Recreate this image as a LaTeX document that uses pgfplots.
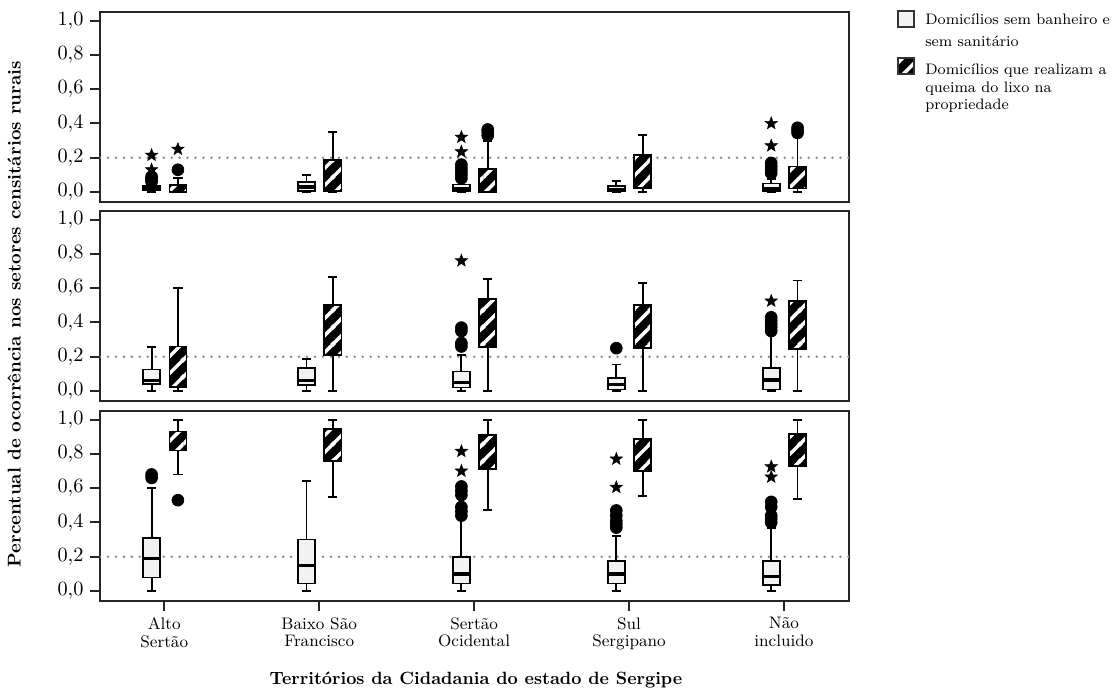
\documentclass[border=0pt]{standalone}
\usepackage{pgfplots}
\pgfplotsset{compat=1.18}
\usepgfplotslibrary{statistics}
\usetikzlibrary{patterns}

\pgfdeclarepatternformonly{wstripes}{\pgfqpoint{0pt}{0pt}}{\pgfqpoint{9pt}{9pt}}{\pgfqpoint{9pt}{9pt}}{%
  \pgfsetlinewidth{1.9pt}%
  \pgfpathmoveto{\pgfqpoint{-1pt}{-1pt}}\pgfpathlineto{\pgfqpoint{10pt}{10pt}}%
  \pgfpathmoveto{\pgfqpoint{-1pt}{8pt}}\pgfpathlineto{\pgfqpoint{1pt}{10pt}}%
  \pgfpathmoveto{\pgfqpoint{8pt}{-1pt}}\pgfpathlineto{\pgfqpoint{10pt}{1pt}}%
  \pgfusepath{stroke}}

\pgfdeclareplotmark{fstar}{%
  \pgfpathmoveto{\pgfpointpolar{90}{\pgfplotmarksize}}%
  \pgfpathlineto{\pgfpointpolar{126}{0.42\pgfplotmarksize}}%
  \pgfpathlineto{\pgfpointpolar{162}{\pgfplotmarksize}}%
  \pgfpathlineto{\pgfpointpolar{198}{0.42\pgfplotmarksize}}%
  \pgfpathlineto{\pgfpointpolar{234}{\pgfplotmarksize}}%
  \pgfpathlineto{\pgfpointpolar{270}{0.42\pgfplotmarksize}}%
  \pgfpathlineto{\pgfpointpolar{306}{\pgfplotmarksize}}%
  \pgfpathlineto{\pgfpointpolar{342}{0.42\pgfplotmarksize}}%
  \pgfpathlineto{\pgfpointpolar{18}{\pgfplotmarksize}}%
  \pgfpathlineto{\pgfpointpolar{54}{0.42\pgfplotmarksize}}%
  \pgfpathclose
  \pgfusepathqfillstroke}

\pgfplotsset{
  panel/.style={
    width=404.46pt, height=102.6pt, scale only axis,
    xmin=0.585, xmax=5.42, ymin=-0.058, ymax=1.05,
    ytick={0,0.2,0.4,0.6,0.8,1}, ytick pos=left,
    tick align=outside, major tick length=5.4pt,
    axis line style={line width=1.2pt, black!85},
    tick style={line width=1.1pt, black!85},
    y tick label style={/pgf/number format/.cd, fixed, fixed zerofill, precision=1, use comma, /tikz/.cd, font=\fontsize{10.5}{12}\selectfont},
    xtick=\empty,
  },
  boxW/.style={black, line width=0.9pt, boxplot/draw direction=y, boxplot/box extend=0.11, boxplot/whisker extend=0.06,
    boxplot/every box/.style={fill=black!5, line width=0.9pt},
    boxplot/every whisker/.style={line width=1pt},
    boxplot/every median/.style={line width=1.8pt}},
  boxH/.style={black, line width=0.9pt, boxplot/draw direction=y, boxplot/box extend=0.11, boxplot/whisker extend=0.06,
    boxplot/every box/.style={fill=black, postaction={pattern=wstripes, pattern color=white}, postaction={draw=black, line width=0.9pt}},
    boxplot/every whisker/.style={line width=1pt},
    boxplot/every median/.style={opacity=0}},
  circ/.style={only marks, mark=*, mark size=3.2pt, black},
  ostar/.style={only marks, mark=fstar, mark size=3.5pt, black, mark options={line width=0.3pt}},
  refline/.style={black!45, line width=1.5pt, line cap=round, dash pattern=on 0pt off 4.3pt},
}

\newcommand{\BW}[6]{\addplot[boxW, boxplot prepared={draw position=#1, lower whisker=#2, lower quartile=#3, median=#4, upper quartile=#5, upper whisker=#6}] coordinates {};}
\newcommand{\BH}[6]{\addplot[boxH, boxplot prepared={draw position=#1, lower whisker=#2, lower quartile=#3, median=#4, upper quartile=#5, upper whisker=#6}] coordinates {};}

\begin{document}
\begin{tikzpicture}
\useasboundingbox (-54pt,6.48pt) rectangle (549.18pt,-368.28pt);

% Panel 1
\begin{axis}[panel, at={(0,0)}, anchor=north west]
\addplot[refline] coordinates {(0.585,0.2) (5.42,0.2)};
\BW{0.918}{0}{0.01}{0.02}{0.035}{0.045}
\addplot[circ] coordinates {(0.918,0.06) (0.918,0.07) (0.918,0.08) (0.918,0.09)};
\addplot[ostar] coordinates {(0.918,0.13) (0.918,0.215)};
\BH{1.088}{0}{0.002}{0.015}{0.04}{0.08}
\addplot[circ] coordinates {(1.088,0.13)};
\addplot[ostar] coordinates {(1.088,0.25)};
\BW{1.918}{0}{0.005}{0.03}{0.06}{0.10}
\BH{2.088}{0}{0.005}{0.06}{0.185}{0.35}
\BW{2.918}{0}{0.005}{0.02}{0.045}{0.06}
\addplot[circ] coordinates {(2.918,0.08) (2.918,0.10) (2.918,0.12) (2.918,0.14) (2.918,0.16)};
\addplot[ostar] coordinates {(2.918,0.235) (2.918,0.32)};
\BH{3.088}{0}{0.002}{0.04}{0.135}{0.30}
\addplot[circ] coordinates {(3.088,0.33) (3.088,0.35) (3.088,0.365)};
\BW{3.918}{0}{0.005}{0.015}{0.035}{0.065}
\BH{4.088}{0}{0.025}{0.10}{0.215}{0.335}
\BW{4.918}{0}{0.005}{0.02}{0.05}{0.075}
\addplot[circ] coordinates {(4.918,0.11) (4.918,0.13) (4.918,0.15) (4.918,0.17)};
\addplot[ostar] coordinates {(4.918,0.27) (4.918,0.40)};
\BH{5.088}{0}{0.02}{0.06}{0.15}{0.32}
\addplot[circ] coordinates {(5.088,0.345) (5.088,0.36) (5.088,0.375)};
\node[anchor=west, font=\bfseries\fontsize{10.5}{12}\selectfont, xshift=2pt] at (rel axis cs:1,0.5) {1};
\end{axis}

% Panel 2
\begin{axis}[panel, at={(0,-107.46pt)}, anchor=north west]
\addplot[refline] coordinates {(0.585,0.2) (5.42,0.2)};
\BW{0.918}{0}{0.04}{0.06}{0.125}{0.255}
\BH{1.088}{0}{0.025}{0.12}{0.26}{0.60}
\BW{1.918}{0}{0.035}{0.06}{0.135}{0.185}
\BH{2.088}{0}{0.21}{0.38}{0.50}{0.665}
\BW{2.918}{0}{0.02}{0.05}{0.115}{0.21}
\addplot[circ] coordinates {(2.918,0.26) (2.918,0.28) (2.918,0.35) (2.918,0.37)};
\addplot[ostar] coordinates {(2.918,0.76)};
\BH{3.088}{0}{0.255}{0.40}{0.535}{0.655}
\BW{3.918}{0}{0.01}{0.04}{0.075}{0.155}
\addplot[circ] coordinates {(3.918,0.25)};
\BH{4.088}{0}{0.25}{0.38}{0.50}{0.63}
\BW{4.918}{0}{0.01}{0.065}{0.135}{0.33}
\addplot[circ] coordinates {(4.918,0.35) (4.918,0.37) (4.918,0.39) (4.918,0.41) (4.918,0.43)};
\addplot[ostar] coordinates {(4.918,0.525)};
\BH{5.088}{0}{0.245}{0.39}{0.525}{0.645}
\node[anchor=west, font=\bfseries\fontsize{10.5}{12}\selectfont, xshift=2pt] at (rel axis cs:1,0.5) {2};
\end{axis}

% Panel 3
\begin{axis}[panel, at={(0,-215.46pt)}, anchor=north west,
  xtick={1,2,3,4,5}, xtick pos=bottom,
  xticklabels={{Alto\\Sertão},{Baixo São\\Francisco},{Sertão\\Ocidental},{Sul\\Sergipano},{Não\\incluido}},
  x tick label style={align=center, font=\fontsize{9}{9.5}\selectfont}]
\addplot[refline] coordinates {(0.585,0.2) (5.42,0.2)};
\BW{0.918}{0}{0.08}{0.19}{0.31}{0.60}
\addplot[circ] coordinates {(0.918,0.66) (0.918,0.68)};
\BH{1.088}{0.68}{0.82}{0.87}{0.93}{1.0}
\addplot[circ] coordinates {(1.088,0.53)};
\BW{1.918}{0}{0.045}{0.15}{0.30}{0.64}
\BH{2.088}{0.55}{0.76}{0.86}{0.945}{1.0}
\BW{2.918}{0}{0.045}{0.10}{0.20}{0.42}
\addplot[circ] coordinates {(2.918,0.44) (2.918,0.465) (2.918,0.49) (2.918,0.56) (2.918,0.585) (2.918,0.61)};
\addplot[ostar] coordinates {(2.918,0.70) (2.918,0.815)};
\BH{3.088}{0.475}{0.71}{0.82}{0.91}{1.0}
\BW{3.918}{0}{0.045}{0.10}{0.175}{0.32}
\addplot[circ] coordinates {(3.918,0.37) (3.918,0.39) (3.918,0.41) (3.918,0.44) (3.918,0.47)};
\addplot[ostar] coordinates {(3.918,0.605) (3.918,0.77)};
\BH{4.088}{0.555}{0.70}{0.79}{0.885}{1.0}
\BW{4.918}{0}{0.035}{0.085}{0.175}{0.37}
\addplot[circ] coordinates {(4.918,0.40) (4.918,0.42) (4.918,0.44) (4.918,0.49) (4.918,0.52)};
\addplot[ostar] coordinates {(4.918,0.665) (4.918,0.725)};
\BH{5.088}{0.535}{0.73}{0.82}{0.915}{1.0}
\node[anchor=west, font=\bfseries\fontsize{10.5}{12}\selectfont, xshift=2pt] at (rel axis cs:1,0.5) {3};
\end{axis}

% axis titles
\node[rotate=90, font=\bfseries\fontsize{10}{12}\selectfont] at (-46.44pt,-163.08pt) {Percentual de ocorrência nos setores censitários rurais};
\node[font=\bfseries\fontsize{9.6}{12}\selectfont] at (203pt,-360.7pt) {Territórios da Cidadania do estado de Sergipe};

% legend
\draw[black!80, line width=0.8pt, fill=black!5] (430.9pt,0.54pt) rectangle (439.6pt,-8.1pt);
\draw[black!80, line width=0.8pt, fill=black, postaction={pattern=wstripes, pattern color=white}] (430.9pt,-24.84pt) rectangle (439.6pt,-33.48pt);
\draw[black!80, line width=0.8pt] (430.9pt,-24.84pt) rectangle (439.6pt,-33.48pt);
\begin{scope}[every node/.style={anchor=base west, inner sep=0pt, font=\fontsize{8.2}{10}\selectfont}]
\node at (445.5pt,-6.48pt) {Domicílios sem banheiro e};
\node at (445.5pt,-18.36pt) {sem sanitário};
\node at (445.5pt,-34.0pt) {Domicílios que realizam a};
\node at (445.5pt,-43.4pt) {queima do lixo na};
\node at (445.5pt,-52.6pt) {propriedade};
\end{scope}
\end{tikzpicture}
\end{document}
